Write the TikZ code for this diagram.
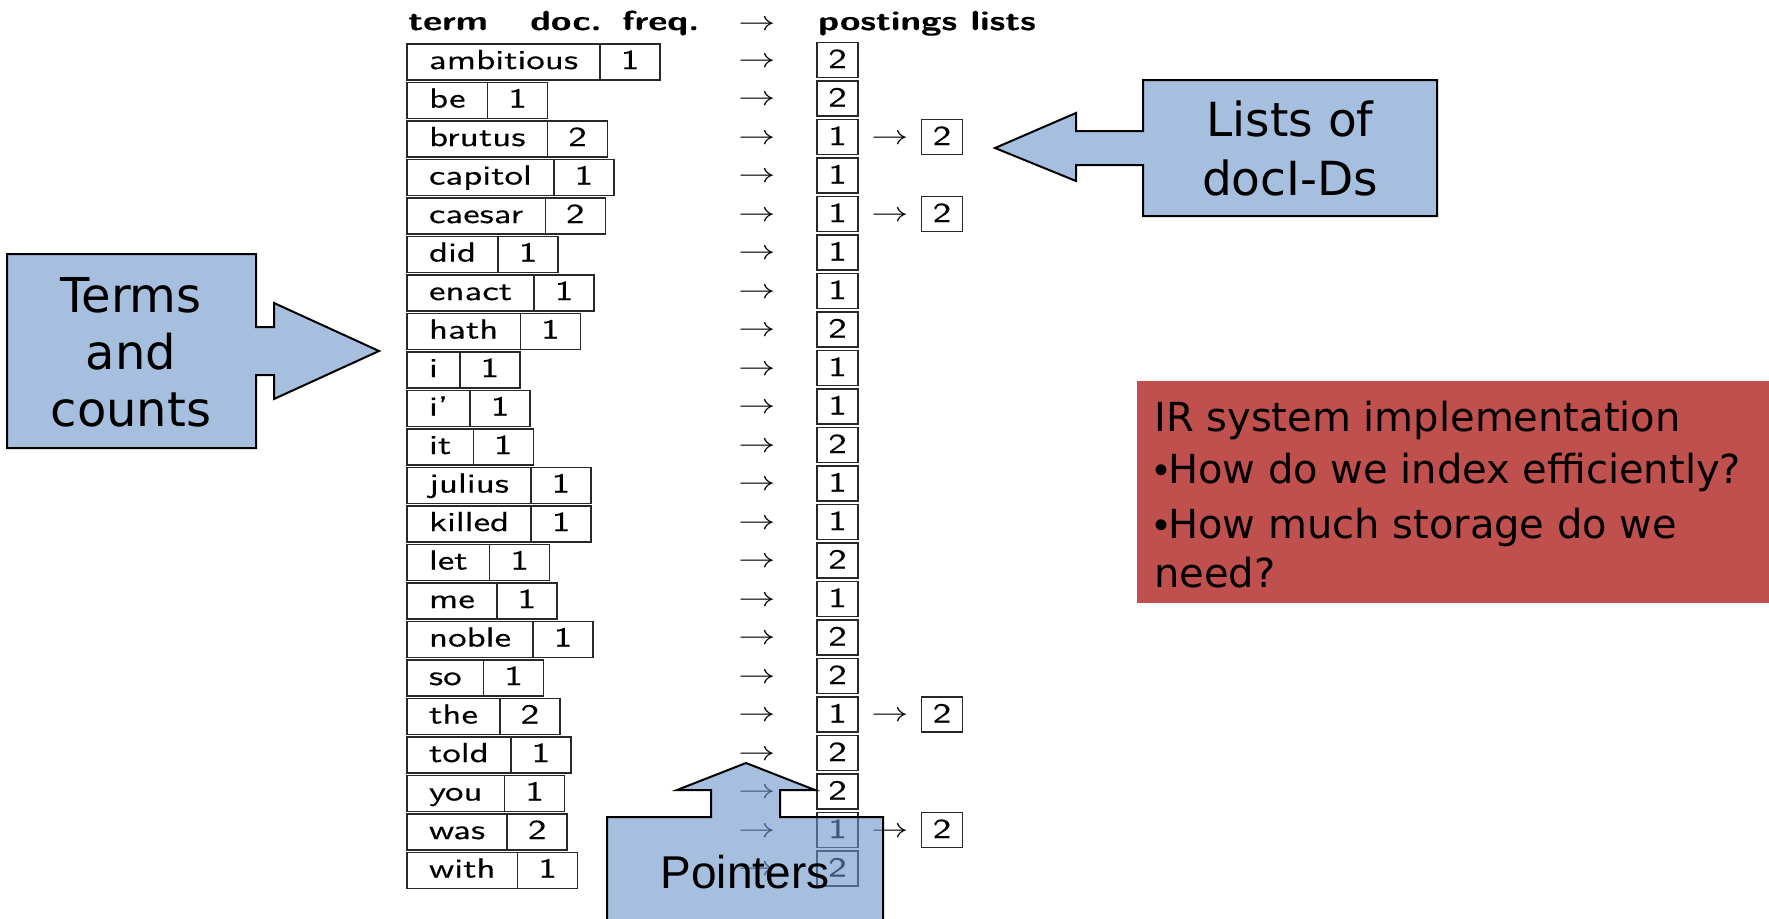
\documentclass[tikz,border=0pt]{standalone}
\usepackage{fontspec}
\usepackage{graphicx}
\usetikzlibrary{positioning}
\newfontfamily\tabfont{lmsans10}[Extension=.otf, UprightFont=*-regular, BoldFont=*-bold, FakeStretch=1.35, FakeBold=0.3]
\newfontfamily\callfont{DejaVu Sans}
\newfontfamily\ptrfont{Liberation Sans}
\definecolor{calloutblue}{RGB}{108,148,200}
\definecolor{boxred}{RGB}{192,80,77}
\definecolor{tabline}{RGB}{40,40,40}
\newcommand{\tabsize}{\fontsize{27.4}{33}\selectfont}
\newcommand{\pto}{\scalebox{1.49}[1.1]{\fontsize{24.88}{30}\selectfont$\rightarrow$}}
\newcommand{\dotmark}{{\ptrfont •}}

\begin{document}
\begin{tikzpicture}[x=1pt, y=-1pt,
    term/.style={draw=tabline, line width=1.4pt, outer sep=0pt, inner xsep=22pt, inner ysep=0pt,
      minimum height=36pt, text height=19pt, text depth=5pt, font=\tabfont\tabsize, anchor=west},
    freq/.style={term, inner xsep=0pt, minimum width=60pt},
    post/.style={draw=tabline, line width=1.4pt, inner sep=0pt, minimum width=41pt,
      minimum height=35pt, text height=19pt, text depth=3pt, font=\tabfont\tabsize},
    ptr/.style={inner sep=0pt},
    head/.style={inner sep=0pt, anchor=base west, font=\tabfont\tabsize\bfseries},
    callout/.style={draw=black, line width=2pt, fill=calloutblue, fill opacity=0.6},
    calltext/.style={align=center, font=\callfont\fontsize{48}{57}\selectfont}]
    \useasboundingbox (0,0) rectangle (1769,918);
    \clip (0,0) rectangle (1769,918);
    % header row
    \node (h1) at (408,30) [head] {term};
    \node (h2) at (530,30) [head] {doc.};
    \node (h3) at (622,30) [head] {freq.};
    \node (h4) at (757,30) [ptr, anchor=base] {\pto};
    \node (h5) at (818,30) [head] {postings lists};
    % dictionary and postings
    \foreach \w/\f/\p [count=\i from 0] in {ambitious/1/2, be/1/2, brutus/2/1, capitol/1/1,
        caesar/2/1, did/1/1, enact/1/1, hath/1/2, i/1/1, i’/1/1, it/1/2, julius/1/1,
        killed/1/1, let/1/2, me/1/1, noble/1/2, so/1/2, the/2/1, told/1/2, you/1/2,
        was/2/1, with/1/2} {
      \node (t\i) at (407,{62+38.5*\i}) [term] {\w};
      \node (f\i) [freq, right=0pt of t\i] {\f};
      \node (a\i) at (757,{62+38.5*\i}) [ptr] {\pto};
      \node (p\i) at (837.5,{60+38.5*\i}) [post] {\p};
    }
    \node (b2) at (890,139) [ptr] {\pto};
    \node (q2) at (942,137) [post] {2};
    \node (b4) at (890,216) [ptr] {\pto};
    \node (q4) at (942,214) [post] {2};
    \node (b17) at (890,716.5) [ptr] {\pto};
    \node (q17) at (942,714.5) [post] {2};
    \node (b20) at (890,832) [ptr] {\pto};
    \node (q20) at (942,830) [post] {2};
    % callouts
    \draw[callout] (7,254) -- (256,254) -- (256,327) -- (274,327) -- (274,303) -- (379,351)
      -- (274,399) -- (274,375) -- (256,375) -- (256,448) -- (7,448) -- cycle;
    \node (terms) at (131,352) [calltext] {Terms\\and\\counts};
    \draw[callout] (1437,80) -- (1143,80) -- (1143,131) -- (1076,131) -- (1076,113) -- (995,148)
      -- (1076,181) -- (1076,165) -- (1143,165) -- (1143,216) -- (1437,216) -- cycle;
    \node (lists) at (1290,148) [calltext, font=\callfont\fontsize{47}{59}\selectfont] {Lists of\\docI-Ds};
    \draw[callout] (607,940) -- (607,817) -- (711,817) -- (711,790) -- (677,790) -- (746,763)
      -- (815,790) -- (780,790) -- (780,817) -- (883,817) -- (883,940) -- cycle;
    \node (pointers) at (745,888) [inner sep=0pt, anchor=base, font=\ptrfont\fontsize{46}{55}\selectfont] {Pointers};
    % note box
    \fill[boxred] (1137,381) rectangle (1780,603);
    \node (note) at (1154,400.5) [inner sep=0pt, anchor=north west, align=left,
      font=\callfont\fontsize{40}{46}\selectfont] {IR system implementation\\[6pt]
      \dotmark How do we index efficiently?\\[9pt]\dotmark How much storage do we\\[3pt]need?};
\end{tikzpicture}
\end{document}
